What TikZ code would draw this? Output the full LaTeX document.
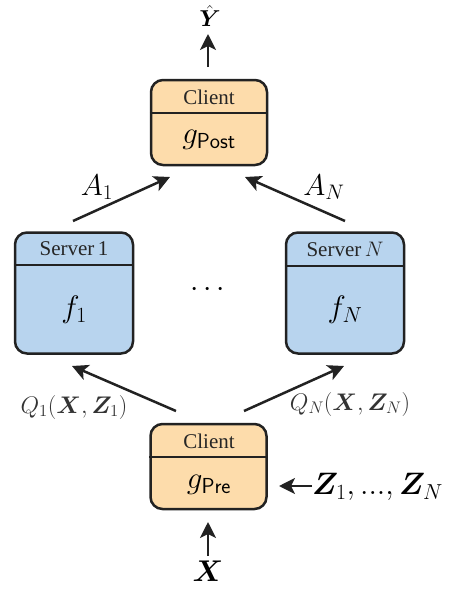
\RequirePackage{fix-cm}
\documentclass[tikz,border=0pt]{standalone}
\usepackage{amsmath,bm}
\usepackage{fontspec}
\newfontfamily\boxfont{Liberation Serif}
\usetikzlibrary{arrows.meta}
\definecolor{peach}{HTML}{FDDCAB}
\definecolor{skyb}{HTML}{B8D4EE}
\definecolor{edge}{HTML}{222222}
\tikzset{
  box/.style={draw=edge, line width=2.5pt, rounded corners=12pt, inner sep=0pt},
  clientbox/.style={box, fill=peach, minimum width=116pt, minimum height=85pt},
  serverbox/.style={box, fill=skyb, minimum width=118pt, minimum height=121pt},
  divider/.style={draw=edge, line width=2.5pt},
  title/.style={inner sep=0pt, font=\boxfont\fontsize{21}{21}\selectfont, text=black!85},
  main/.style={inner sep=0pt, font=\fontsize{31}{31}\selectfont},
  lab/.style={inner sep=0pt, font=\fontsize{30}{30}\selectfont},
  slab/.style={inner sep=0pt, font=\fontsize{24}{24}\selectfont, text=black!80},
  arr/.style={draw=edge, line width=2.5pt, -{Stealth[length=16pt,width=16pt,inset=4pt]}},
}
\begin{document}
\begin{tikzpicture}[x=1pt,y=-1pt]
\useasboundingbox (0,0) rectangle (457,589);
% top client
\node[clientbox] (post) at (209,122.5) {};
\draw[divider] (post.west |- 0,113) -- (post.east |- 0,113);
\node[title] (posttitle) at (209,97) {Client};
\node[main] (postf) at (209,140) {$g_{\mathsf{Post}}$};
\node[lab, anchor=base, font=\fontsize{23}{23}\selectfont] (yhat) at (210,27) {$\hat{\bm{Y}}$};
\coordinate (yin) at (208,67);
\coordinate (yout) at (208,34);
\draw[arr] (yin) -- (yout);
% servers
\node[serverbox] (s1) at (74,293) {};
\draw[divider] (s1.west |- 0,265) -- (s1.east |- 0,265);
\node[title] (s1title) at (74,249) {Server\,1};
\node[main] (s1f) at (74,310) {$f_1$};
\node[serverbox] (sN) at (345,293) {};
\draw[divider] (sN.west |- 0,266) -- (sN.east |- 0,266);
\node[title] (sNtitle) at (345,249) {Server\,$N$};
\node[main] (sNf) at (345,310) {$f_N$};
\node[lab] (dots) at (210,290) {$\cdots$};
% bottom client
\node[clientbox] (pre) at (208.5,466.5) {};
\draw[divider] (pre.west |- 0,457) -- (pre.east |- 0,457);
\node[title] (pretitle) at (209,441) {Client};
\node[main] (pref) at (209,485) {$g_{\mathsf{Pre}}$};
\node[lab, anchor=base] (x) at (208,581) {$\bm{X}$};
\coordinate (xin) at (208,556);
\coordinate (xout) at (208,522);
\draw[arr] (xin) -- (xout);
\node[lab, anchor=west, font=\fontsize{31}{31}\selectfont] (z) at (312,487) {$\bm{Z}_1, ..., \bm{Z}_N$};
\coordinate (zin) at (312,486);
\coordinate (zout) at (279,486);
\draw[arr] (zin) -- (zout);
% arrows to servers
\coordinate (p1) at (176,411);
\coordinate (q1) at (72,366);
\draw[arr] (p1) -- (q1);
\coordinate (p2) at (244,411);
\coordinate (q2) at (344,366);
\draw[arr] (p2) -- (q2);
\node[slab] (ql1) at (74,407) {$Q_1(\bm{X},\bm{Z}_1)$};
\node[slab] (qlN) at (350,404) {$Q_N(\bm{X},\bm{Z}_N)$};
% arrows to post
\coordinate (r1) at (73,221);
\coordinate (t1) at (170,177);
\draw[arr] (r1) -- (t1);
\coordinate (r2) at (345,221);
\coordinate (t2) at (245,177);
\draw[arr] (r2) -- (t2);
\node[lab] (a1) at (97,187) {$A_1$};
\node[lab] (aN) at (324,187) {$A_N$};
\end{tikzpicture}
\end{document}
